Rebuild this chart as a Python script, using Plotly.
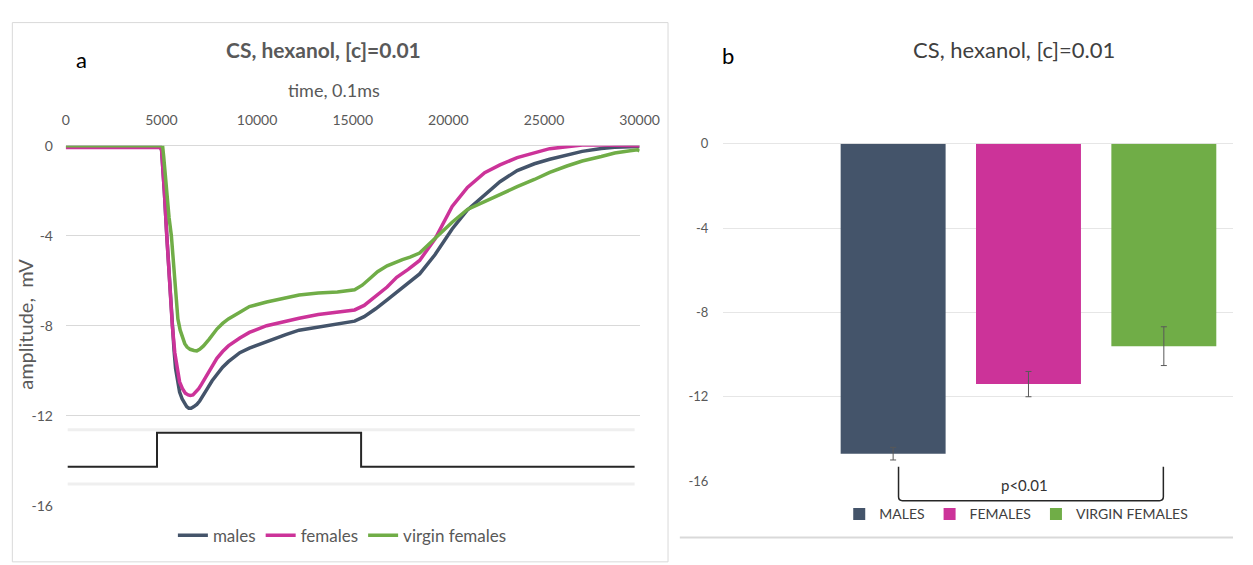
import plotly.graph_objects as go

W, H = 1253, 565


def px(x):
    return x / W


def py(y):
    return 1 - y / H


FONT = "Lato"

# ---------------- panel a : averaged EAG traces ----------------
line_names = ["males", "females", "virgin females"]
line_colors = ["#44546A", "#CC3399", "#70AD47"]

time_males = [0, 4950, 5010, 5080, 5150, 5280, 5420, 5570, 5660, 5740, 5850, 5950, 6080, 6200,
              6320, 6430, 6550, 6700, 6850, 7000, 7200, 7400, 7650, 7900, 8200, 8500, 9100,
              9600, 10500, 11500, 12200, 13200, 14200, 15100, 15600, 16200, 16800, 17300,
              17900, 18500, 19300, 20200, 21000, 21900, 22700, 23600, 24500, 25300, 26200,
              27000, 28000, 28700, 30000]
amp_males = [-0.05, -0.05, -0.2, -0.9, -2.0, -4.0, -6.0, -8.0, -9.1, -9.9, -10.6, -10.95,
             -11.25, -11.45, -11.6, -11.67, -11.67, -11.6, -11.5, -11.35, -11.1, -10.8,
             -10.45, -10.15, -9.85, -9.6, -9.2, -9.0, -8.7, -8.4, -8.2, -8.05, -7.9, -7.8,
             -7.6, -7.25, -6.85, -6.5, -6.1, -5.7, -4.85, -3.7, -2.85, -2.2, -1.6, -1.1,
             -0.8, -0.6, -0.4, -0.25, -0.12, -0.07, -0.03]

time_females = [0, 4950, 5010, 5080, 5150, 5280, 5420, 5570, 5700, 5830, 5950, 6100, 6250,
                6400, 6510, 6650, 6800, 6950, 7100, 7300, 7500, 7700, 7900, 8200, 8500, 9100,
                9600, 10500, 11500, 12200, 13200, 14200, 15100, 15600, 16200, 16800, 17300,
                17900, 18500, 19300, 20200, 21000, 21900, 22700, 23600, 24500, 25300, 26200,
                27000, 28000, 29000, 30000]
amp_females = [-0.08, -0.08, -0.2, -0.9, -2.0, -4.0, -6.0, -8.0, -9.2, -10.0, -10.5, -10.8,
               -11.0, -11.08, -11.1, -11.08, -10.95, -10.8, -10.6, -10.3, -10.0, -9.7, -9.45,
               -9.15, -8.9, -8.55, -8.3, -8.0, -7.8, -7.67, -7.5, -7.4, -7.3, -7.1, -6.7,
               -6.28, -5.85, -5.5, -5.1, -4.15, -2.7, -1.85, -1.2, -0.85, -0.53, -0.3,
               -0.13, -0.04, 0.03, 0.03, 0.02, 0.0]

time_virgin = [0, 4950, 5060, 5120, 5200, 5280, 5400, 5520, 5610, 5700, 5780, 5860, 5980,
               6100, 6220, 6340, 6500, 6700, 6850, 7000, 7200, 7500, 7900, 8200, 8500, 9100,
               9600, 10500, 11500, 12200, 13200, 14200, 15100, 15500, 15900, 16300, 16800,
               17200, 17600, 18000, 18500, 19300, 20200, 21000, 21900, 22700, 23600, 24500,
               25300, 26200, 27000, 28000, 28700, 29500, 29900, 30000]
amp_virgin = [0.0, 0.0, 0.0, -0.5, -1.4, -2.3, -3.2, -4.0, -5.0, -6.0, -7.0, -7.7, -8.2,
              -8.55, -8.8, -8.95, -9.05, -9.1, -9.12, -9.05, -8.9, -8.6, -8.15, -7.9, -7.7,
              -7.4, -7.15, -6.95, -6.75, -6.64, -6.55, -6.5, -6.4, -6.2, -5.9, -5.6, -5.34,
              -5.18, -5.06, -4.95, -4.77, -4.12, -3.4, -2.83, -2.47, -2.15, -1.82, -1.5,
              -1.18, -0.9, -0.68, -0.48, -0.32, -0.22, -0.18, -0.24]

stim_time = [100, 4770, 4770, 15440, 15440, 29740]
stim_amp = [-14.27, -14.27, -12.76, -12.76, -14.27, -14.27]
stim_frame = [-12.63, -15.04]

x_ticks = [0, 5000, 10000, 15000, 20000, 25000, 30000]
y_ticks = [0, -4, -8, -12, -16]

# ---------------- panel b : peak amplitudes ----------------
groups = ["MALES", "FEMALES", "VIRGIN FEMALES"]
bar_means = [-14.7, -11.4, -9.6]
bar_errs = [0.3, 0.6, 0.92]
bar_colors = ["#44546A", "#CC3399", "#70AD47"]

fig = go.Figure()

fig.add_trace(go.Scatter(x=stim_time, y=stim_amp, mode="lines",
                         line=dict(color="#262626", width=2), showlegend=False,
                         hoverinfo="skip", xaxis="x", yaxis="y"))

for name, col, t, a in zip(line_names, line_colors,
                           [time_males, time_females, time_virgin],
                           [amp_males, amp_females, amp_virgin]):
    fig.add_trace(go.Scatter(x=t, y=a, mode="lines", name=name,
                             line=dict(color=col, width=3.5),
                             xaxis="x", yaxis="y", legend="legend"))

for i, (g, m, e, c) in enumerate(zip(groups, bar_means, bar_errs, bar_colors)):
    fig.add_trace(go.Bar(x=["CS"], y=[m], name=g, marker=dict(color=c, line=dict(width=0)),
                         error_y=dict(type="data", array=[e], color="#595959",
                                      thickness=1, width=3),
                         offsetgroup=str(i), xaxis="x2", yaxis="y2", legend="legend2"))

shapes = []
# frame of the pasted stimulus picture
for yv in stim_frame:
    shapes.append(dict(type="line", xref="x", yref="y", x0=stim_time[0], x1=stim_time[-1],
                       y0=yv, y1=yv, line=dict(color="#efefef", width=3), layer="below"))
# panel a border
shapes.append(dict(type="rect", xref="paper", yref="paper", x0=px(8.5), x1=px(677),
                   y0=py(570), y1=py(14), line=dict(color="#d9d9d9", width=1)))
# panel b bottom border
shapes.append(dict(type="line", xref="paper", yref="paper", x0=px(689), x1=1,
                   y0=py(545), y1=py(545), line=dict(color="#d9d9d9", width=2)))
# significance bracket
xl, xr, yt, yb, r = px(912), px(1182), py(472), py(507), 4
path = (f"M {xl},{yt} L {xl},{py(507 - r)} Q {xl},{yb} {px(912 + r)},{yb} "
        f"L {px(1182 - r)},{yb} Q {xr},{yb} {xr},{py(507 - r)} L {xr},{yt}")
shapes.append(dict(type="path", xref="paper", yref="paper", path=path,
                   line=dict(color="#262626", width=1.5)))

annotations = [
    dict(text="a", x=px(79), y=py(52), font=dict(size=22, color="#000000")),
    dict(text="b", x=px(738), y=py(48), font=dict(size=22, color="#000000")),
    dict(text="<b>CS, hexanol, [c]=0.01</b>", x=px(326), y=py(42),
         font=dict(size=21, color="#595959")),
    dict(text="time, 0.1ms", x=px(336), y=py(83), font=dict(size=18, color="#595959")),
    dict(text="amplitude,  mV", x=px(22), y=py(325), textangle=-90,
         font=dict(size=20, color="#595959")),
    dict(text="CS, hexanol, [c]=0.01", x=px(1030), y=py(42),
         font=dict(size=22, color="#404040")),
    dict(text="p<0.01", x=px(1040), y=py(491), font=dict(size=15, color="#333333")),
]
for a in annotations:
    a.update(xref="paper", yref="paper", showarrow=False, xanchor="center", yanchor="middle")

fig.update_layout(
    width=W, height=H, margin=dict(l=0, r=0, t=0, b=0),
    paper_bgcolor="white", plot_bgcolor="white",
    font=dict(family=FONT, color="#595959"),
    barmode="group", bargap=0.3355, bargroupgap=0.2246,
    xaxis=dict(domain=[px(63), px(648)], range=[0, 30000], side="top", anchor="y",
               tickvals=x_ticks, ticktext=[str(v) for v in x_ticks],
               showgrid=False, zeroline=False, showline=False,
               ticks="outside", ticklen=14, tickcolor="rgba(0,0,0,0)",
               tickfont=dict(size=14, color="#595959")),
    yaxis=dict(domain=[py(512), py(141)], range=[-16, 0], anchor="x",
               tickvals=y_ticks, ticktext=[str(v) for v in y_ticks],
               showgrid=True, gridcolor="#d9d9d9", gridwidth=1,
               zeroline=True, zerolinecolor="#d9d9d9", zerolinewidth=1, showline=False,
               ticks="outside", ticklen=9, tickcolor="rgba(0,0,0,0)",
               tickfont=dict(size=14, color="#595959")),
    xaxis2=dict(domain=[px(733), 1], range=[-0.5, 0.3347], anchor="y2", type="category",
                showticklabels=False, showgrid=False, zeroline=False, showline=False),
    yaxis2=dict(domain=[py(486.7), py(139)], range=[-16, 0], anchor="x2",
                tickvals=y_ticks, ticktext=[str(v) for v in y_ticks],
                showgrid=True, gridcolor="#e6e6e6", gridwidth=1,
                zeroline=True, zerolinecolor="#e6e6e6", zerolinewidth=1, showline=False,
                ticks="outside", ticklen=11, tickcolor="rgba(0,0,0,0)",
                tickfont=dict(size=13, color="#595959")),
    legend=dict(orientation="h", x=px(345), xanchor="center", y=py(543), yanchor="middle",
                font=dict(size=17, color="#595959"), bgcolor="rgba(0,0,0,0)"),
    legend2=dict(orientation="h", x=px(1032), xanchor="center", y=py(521), yanchor="middle",
                 font=dict(size=14, color="#404040"), bgcolor="rgba(0,0,0,0)",
                 itemwidth=30),
    shapes=shapes, annotations=annotations,
)

fig.write_html("out.html")
